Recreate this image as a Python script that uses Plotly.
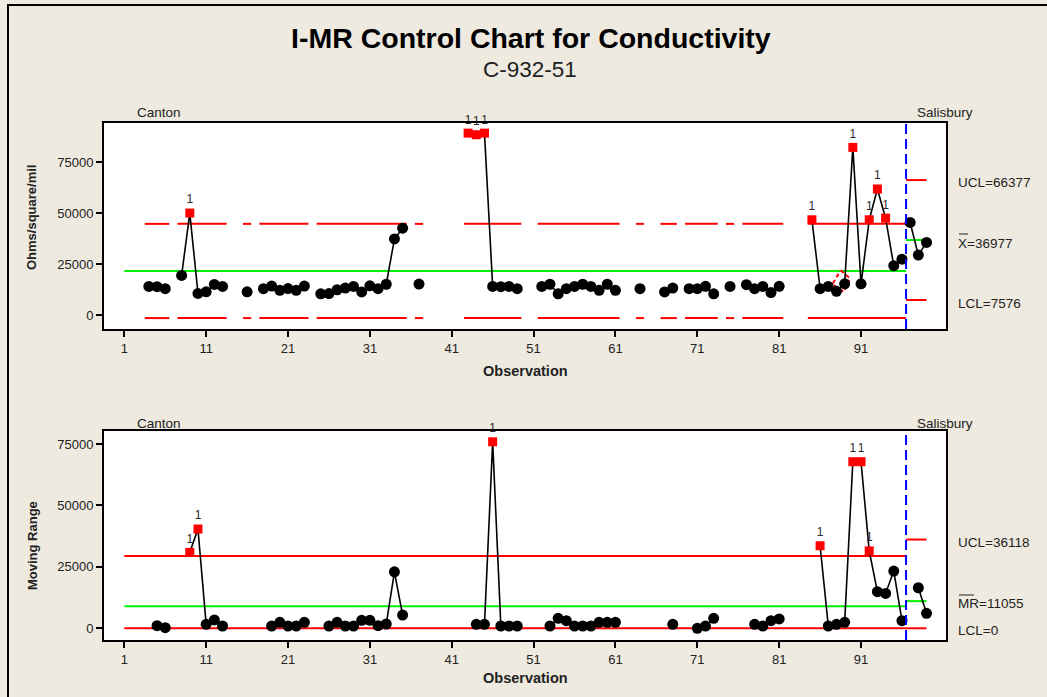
import plotly.graph_objects as go

W, H = 1047, 697

# ---------------- data ----------------
obs = [4, 5, 6, 8, 9, 10, 11, 12, 13, 16, 18, 19, 20, 21, 22, 23, 25, 26, 27, 28, 29, 30,
       31, 32, 33, 34, 35, 37, 43, 44, 45, 46, 47, 48, 49, 52, 53, 54, 55, 56, 57, 58, 59,
       60, 61, 64, 67, 68, 70, 71, 72, 73, 75, 77, 78, 79, 80, 81, 85, 86, 87, 88, 89, 90,
       91, 92, 93, 94, 95, 96, 97, 98, 99]
ohms = [14200, 14100, 13100, 19600, 50200, 10800, 11600, 15200, 14200, 11600, 13100, 14400,
        12300, 13200, 12300, 14400, 10600, 10700, 12600, 13400, 14200, 11500, 14500, 13100,
        15300, 37500, 42800, 15400, 89400, 88600, 89400, 14200, 14100, 14200, 13100, 14200,
        15300, 10600, 13100, 14200, 15300, 14200, 12300, 15300, 12300, 13100, 11500, 13400,
        13100, 13100, 14300, 10600, 14200, 15100, 13100, 14200, 11200, 14300, 46900, 13100,
        14200, 11800, 15500, 82400, 15500, 46900, 62000, 47700, 24400, 27600, 45600, 29600,
        35800]

mr_obs = [5, 6, 9, 10, 11, 12, 13, 19, 20, 21, 22, 23, 26, 27, 28, 29, 30, 31, 32, 33, 34, 35,
          44, 45, 46, 47, 48, 49, 53, 54, 55, 56, 57, 58, 59, 60, 61, 68, 71, 72, 73, 78, 79,
          80, 81, 86, 87, 88, 89, 90, 91, 92, 93, 94, 95, 96, 98, 99]
mr = [1060, 250, 30900, 40400, 1600, 3400, 940, 940, 2440, 940, 940, 2440, 940, 2440, 940,
      940, 3260, 3260, 1060, 1750, 23000, 5400, 1600, 1600, 75900, 940, 940, 940, 940, 4070,
      3100, 940, 940, 940, 2440, 2440, 2440, 1600, 0, 940, 4070, 1600, 940, 3100, 3800,
      33600, 940, 1600, 2440, 67800, 67800, 31500, 14900, 14200, 23300, 3100, 16500, 6100]

flag_i = [9, 43, 44, 45, 85, 90, 92, 93, 94]
flag_mr = [9, 10, 46, 86, 90, 91, 92]

first_obs, last_obs = 1, 99
stage_split = 96.5
stage_names = ["Canton", "Salisbury"]

i_canton = {"ucl": 44900, "cl": 21800, "lcl": -1300}
i_salis = {"ucl": 66377, "cl": 36977, "lcl": 7576}
mr_canton = {"ucl": 29400, "cl": 9000, "lcl": 0}
mr_salis = {"ucl": 36118, "cl": 11055, "lcl": 0}

x_ticks = [1, 11, 21, 31, 41, 51, 61, 71, 81, 91]
y_ticks = [0, 25000, 50000, 75000]
y_tick_labels = ["0", "25000", "50000", "75000"]

# ---------------- geometry ----------------
X_RANGE = [-1.48, 101.38]
I_RANGE = [-6650, 94360]
MR_RANGE = [-4760, 80300]
PLOT_L, PLOT_R = 104, 946
TOP_T, TOP_B = 123, 329
BOT_T, BOT_B = 431, 640

FONT = "Liberation Sans, Arial, sans-serif"
RED, GREEN, BLUE = "#FF0000", "#00F000", "#0000FF"


def px(x):
    return x / W


def py(y):
    return 1 - y / H


def gapped(xs, ys):
    gx, gy = [], []
    for k, (x, y) in enumerate(zip(xs, ys)):
        if k > 0 and (x != xs[k - 1] + 1 or (xs[k - 1] < stage_split < x)):
            gx.append(None)
            gy.append(None)
        gx.append(x)
        gy.append(y)
    return gx, gy


def runs(xs):
    out = []
    for x in xs:
        if x > stage_split:
            continue
        if out and x == out[-1][1] + 1:
            out[-1][1] = x
        else:
            out.append([x, x])
    return out


fig = go.Figure()


def add_limits(xa, ya, canton, salis, broken):
    fig.add_trace(go.Scatter(x=[first_obs, stage_split], y=[canton["cl"]] * 2, mode="lines",
                             line=dict(color=GREEN, width=2), xaxis=xa, yaxis=ya,
                             hoverinfo="skip", showlegend=False))
    for key in ("ucl", "lcl"):
        if broken:
            lx, ly = [], []
            for a, b in runs(obs):
                lx += [a - 0.5, min(b + 0.5, stage_split), None]
                ly += [canton[key], canton[key], None]
        else:
            lx, ly = [first_obs, stage_split], [canton[key]] * 2
        fig.add_trace(go.Scatter(x=lx, y=ly, mode="lines", line=dict(color=RED, width=2),
                                 xaxis=xa, yaxis=ya, hoverinfo="skip", showlegend=False))
    for key, col in (("ucl", RED), ("cl", GREEN), ("lcl", RED)):
        fig.add_trace(go.Scatter(x=[stage_split, last_obs], y=[salis[key]] * 2, mode="lines",
                                 line=dict(color=col, width=2), xaxis=xa, yaxis=ya,
                                 hoverinfo="skip", showlegend=False))


def add_series(xa, ya, xs, ys, flags):
    gx, gy = gapped(xs, ys)
    fig.add_trace(go.Scatter(x=gx, y=gy, mode="lines", line=dict(color="black", width=1.6),
                             xaxis=xa, yaxis=ya, hoverinfo="skip", showlegend=False))
    nx = [x for x in xs if x not in flags]
    ny = [y for x, y in zip(xs, ys) if x not in flags]
    fig.add_trace(go.Scatter(x=nx, y=ny, mode="markers",
                             marker=dict(symbol="circle", size=11, color="black"),
                             xaxis=xa, yaxis=ya, showlegend=False))
    fx = [x for x in xs if x in flags]
    fy = [y for x, y in zip(xs, ys) if x in flags]
    fig.add_trace(go.Scatter(x=fx, y=fy, mode="markers+text", text=["1"] * len(fx),
                             textposition="top center",
                             textfont=dict(family=FONT, size=12, color="#2a2a2a"),
                             marker=dict(symbol="square", size=9, color=RED),
                             xaxis=xa, yaxis=ya, showlegend=False, cliponaxis=False))


add_limits("x", "y", i_canton, i_salis, broken=True)
add_limits("x2", "y2", mr_canton, mr_salis, broken=False)

# dashed red marker around point 89 (top chart)
x_scale = (PLOT_R - PLOT_L) / (X_RANGE[1] - X_RANGE[0])
y_scale = (TOP_B - TOP_T) / (I_RANGE[1] - I_RANGE[0])
ax, ay = 89, ohms[obs.index(89)]
corners = [(-4, -13.5), (5.3, -5.5), (-0.7, 8), (-12.3, 0.5), (-4, -13.5)]
fig.add_trace(go.Scatter(x=[ax + dx / x_scale for dx, dy in corners],
                         y=[ay - dy / y_scale for dx, dy in corners], mode="lines",
                         line=dict(color=RED, width=2, dash="4px,3px"),
                         hoverinfo="skip", showlegend=False))

add_series("x", "y", obs, ohms, flag_i)
add_series("x2", "y2", mr_obs, mr, flag_mr)

axis_common = dict(showgrid=False, zeroline=False, showline=True, linewidth=2,
                   linecolor="black", mirror=True, ticks="outside", ticklen=6, tickwidth=2,
                   tickcolor="black", tickfont=dict(family=FONT, size=13, color="#222222"))

fig.update_layout(
    width=W, height=H, autosize=False,
    margin=dict(l=0, r=0, t=0, b=0),
    paper_bgcolor="#EEEAE0", plot_bgcolor="white",
    showlegend=False,
    xaxis=dict(domain=[px(PLOT_L), px(PLOT_R)], range=X_RANGE, tickvals=x_ticks,
               anchor="y", **axis_common),
    yaxis=dict(domain=[py(TOP_B), py(TOP_T)], range=I_RANGE, tickvals=y_ticks,
               ticktext=y_tick_labels, anchor="x", **axis_common),
    xaxis2=dict(domain=[px(PLOT_L), px(PLOT_R)], range=X_RANGE, tickvals=x_ticks,
                anchor="y2", **axis_common),
    yaxis2=dict(domain=[py(BOT_B), py(BOT_T)], range=MR_RANGE, tickvals=y_ticks,
                ticktext=y_tick_labels, anchor="x2", **axis_common),
)

shapes = []
for xr, yr in (("x", "y domain"), ("x2", "y2 domain")):
    shapes.append(dict(type="line", xref=xr, yref=yr,
                       x0=stage_split, x1=stage_split, y0=0, y1=1,
                       line=dict(color=BLUE, width=2, dash="10px,5px")))
# overbars for X-bar and MR-bar labels
shapes.append(dict(type="line", xref="paper", yref="paper", x0=px(959), x1=px(968),
                   y0=py(234), y1=py(234), line=dict(color="#222222", width=1)))
shapes.append(dict(type="line", xref="paper", yref="paper", x0=px(959), x1=px(974),
                   y0=py(595), y1=py(595), line=dict(color="#222222", width=1)))
# figure frame
shapes.append(dict(type="rect", xref="paper", yref="paper", x0=px(8), x1=1.02,
                   y0=-0.02, y1=py(5), line=dict(color="black", width=2)))
fig.update_layout(shapes=shapes)

ann = []


def text(x, y, s, size=13, bold=False, xanchor="left", angle=0, color="#222222"):
    ann.append(dict(x=px(x), y=py(y), xref="paper", yref="paper", text=s, showarrow=False,
                    xanchor=xanchor, yanchor="middle", textangle=angle,
                    font=dict(family=FONT, size=size, color=color,
                              weight="bold" if bold else "normal")))


text(531, 38, "I-MR Control Chart for Conductivity", size=28.5, bold=True, xanchor="center",
     color="black")
text(530, 69, "C-932-51", size=22.5, xanchor="center")
for yy in (113, 423):
    text(135, yy, stage_names[0], size=13.5)
    text(915, yy, stage_names[1], size=13.5)
text(956, 182, f"UCL={i_salis['ucl']}", size=13.5)
text(956, 243, f"X={i_salis['cl']}", size=13.5)
text(956, 303, f"LCL={i_salis['lcl']}", size=13.5)
text(956, 542, f"UCL={mr_salis['ucl']}", size=13.5)
text(956, 603, f"MR={mr_salis['cl']}", size=13.5)
text(956, 630, f"LCL={mr_salis['lcl']}", size=13.5)
text(32, 218, "Ohms/square/mil", size=13, bold=True, xanchor="center", angle=-90)
text(32, 546, "Moving Range", size=13, bold=True, xanchor="center", angle=-90)
text(525, 371, "Observation", size=14.5, bold=True, xanchor="center")
text(525, 678, "Observation", size=14.5, bold=True, xanchor="center")
fig.update_layout(annotations=ann)

fig.write_html("out.html")
